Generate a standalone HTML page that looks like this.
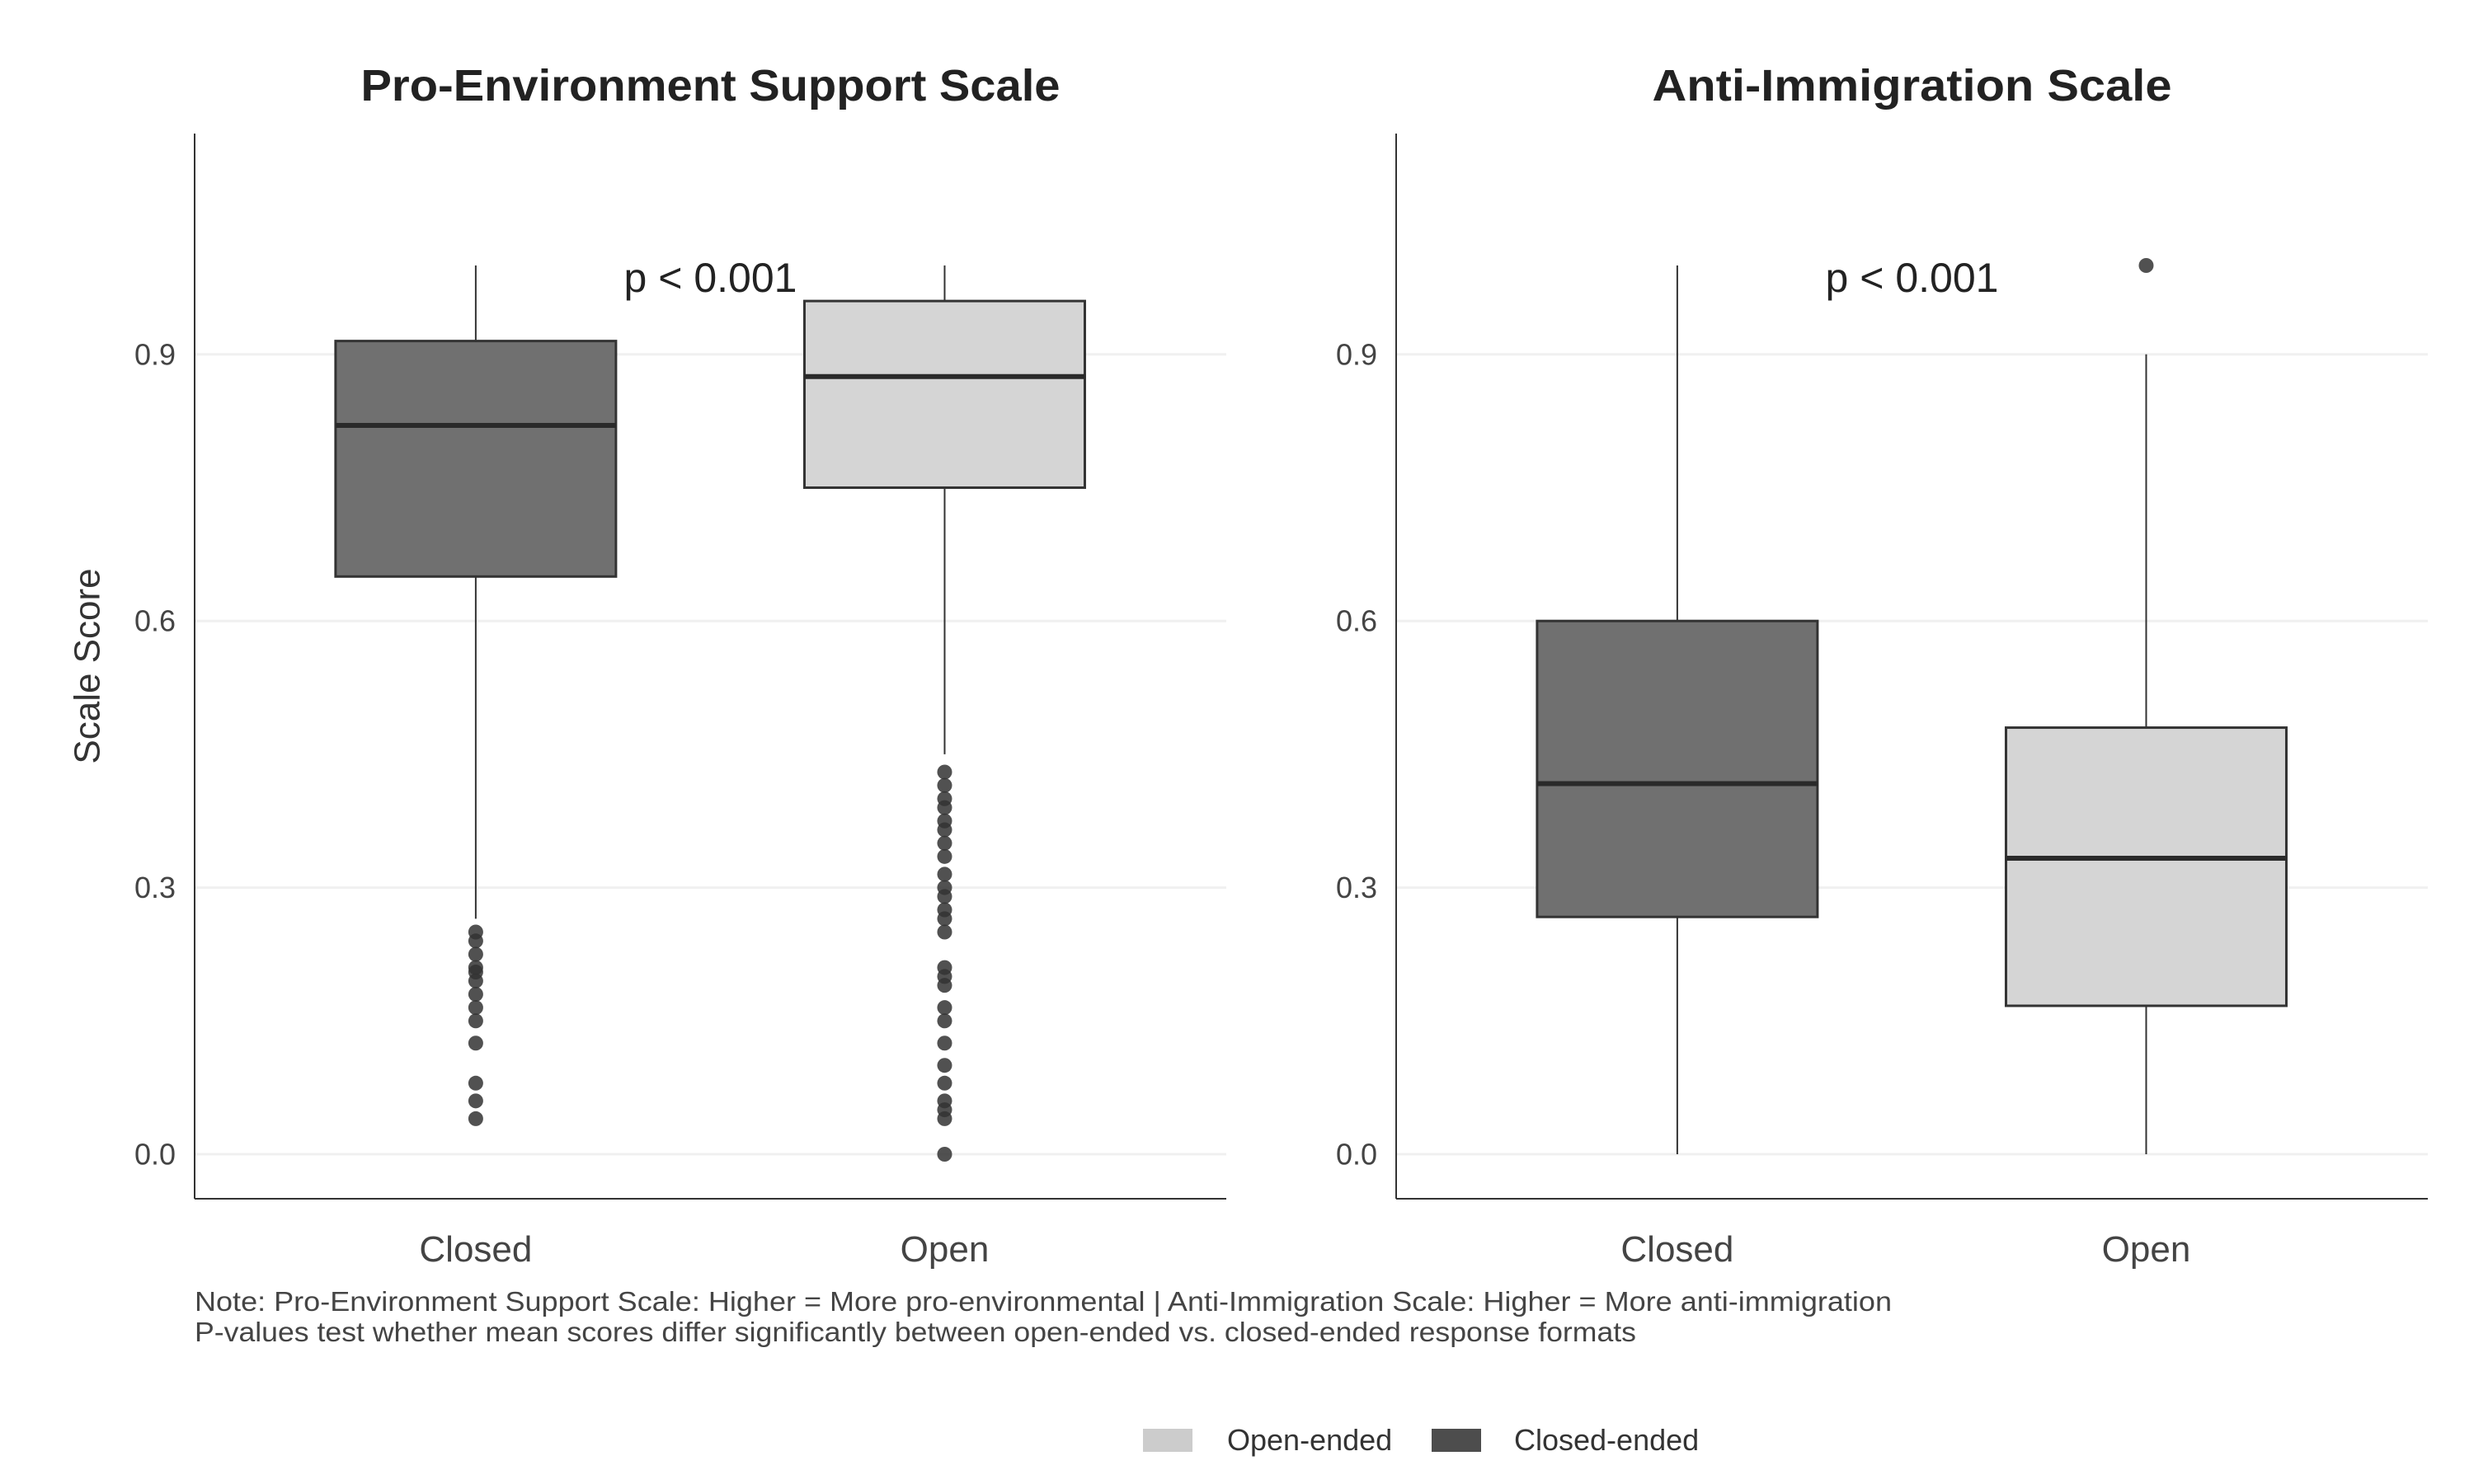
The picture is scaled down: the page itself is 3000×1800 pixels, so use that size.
<!DOCTYPE html>
<html><head><meta charset="utf-8">
<style>
html,body{margin:0;padding:0;background:#fff;}
svg{display:block;font-family:"Liberation Sans","DejaVu Sans",sans-serif;}
</style></head>
<body>
<svg id="chart" width="3000" height="1800" viewBox="0 0 3000 1800" xmlns="http://www.w3.org/2000/svg">
<rect width="3000" height="1800" fill="#fff"/>
<g id="panels"></g>
<text x="106" y="808" transform="rotate(-90 106 808)" text-anchor="middle" dominant-baseline="central" font-size="44" fill="#333">Scale Score</text>
<text x="236" y="1590" font-size="33" fill="#444" textLength="2058" lengthAdjust="spacingAndGlyphs">Note: Pro-Environment Support Scale: Higher = More pro-environmental | Anti-Immigration Scale: Higher = More anti-immigration</text>
<text x="236" y="1627" font-size="33" fill="#444" textLength="1748" lengthAdjust="spacingAndGlyphs">P-values test whether mean scores differ significantly between open-ended vs. closed-ended response formats</text>
<g>
<rect x="1386" y="1733" width="60" height="28" fill="#cccccc"/>
<text x="1488" y="1759" font-size="36" fill="#333">Open-ended</text>
<rect x="1736" y="1733" width="60" height="28" fill="#4d4d4d"/>
<text x="1836" y="1759" font-size="36" fill="#333">Closed-ended</text>
</g>
</svg>
<script>
const panelTitles = ["Pro-Environment Support Scale", "Anti-Immigration Scale"];
const categories = ["Closed", "Open"];
const yTicks = [0.0, 0.3, 0.6, 0.9];
const yTickLabels = ["0.0", "0.3", "0.6", "0.9"];
const pLabels = ["p < 0.001", "p < 0.001"];
// [lowerWhisker, Q1, median, Q3, upperWhisker]
const envClosed = [0.265, 0.65, 0.82, 0.915, 1.0];
const envOpen = [0.45, 0.75, 0.875, 0.96, 1.0];
const immClosed = [0.0, 0.267, 0.417, 0.6, 1.0];
const immOpen = [0.0, 0.167, 0.333, 0.48, 0.9];
const envClosedOutliers = [0.25,0.24,0.225,0.21,0.205,0.195,0.18,0.165,0.15,0.125,0.08,0.06,0.04];
const envOpenOutliers = [0.43,0.415,0.40,0.39,0.375,0.365,0.35,0.335,0.315,0.30,0.29,0.275,0.265,0.25,0.21,0.20,0.19,0.165,0.15,0.125,0.10,0.08,0.06,0.05,0.04,0.0];
const immClosedOutliers = [];
const immOpenOutliers = [1.0];

const NS = "http://www.w3.org/2000/svg";
const root = document.getElementById("panels");
function mk(tag, attrs, parent){const e=document.createElementNS(NS,tag);for(const k in attrs)e.setAttribute(k,attrs[k]);parent.appendChild(e);return e;}
const top0=162, bottom0=1454;
function yScale(v){return 1400 - 1078*v;}
const panelX=[236,1693], panelW=1251;
const titleLens=[848,630];
const boxes=[[envClosed,envOpen],[immClosed,immOpen]];
const outl=[[envClosedOutliers,envOpenOutliers],[immClosedOutliers,immOpenOutliers]];
const fills=["#707070","#d5d5d5"];
const halfW=170;
for(let p=0;p<2;p++){
  const x0=panelX[p];
  const g=mk("g",{},root);
  
  
  function xScale(i){return x0 + panelW*(0.2725 + 0.4545*i);}
  yTicks.forEach((t,i)=>{
    const gl=mk("line",{x1:x0,x2:x0+panelW,y1:yScale(t),y2:yScale(t),stroke:"#f0f0f0","stroke-width":3},g);
    
    
    const tl=mk("text",{x:x0-23,y:yScale(t),"text-anchor":"end","dominant-baseline":"central","font-size":36,fill:"#444"},g);
    tl.textContent=yTickLabels[i];
    
    
  });
  const ax=mk("line",{x1:x0,x2:x0,y1:top0,y2:bottom0,stroke:"#333","stroke-width":2},g);
  
  
  const bx=mk("line",{x1:x0,x2:x0+panelW,y1:bottom0,y2:bottom0,stroke:"#333","stroke-width":2},g);
  
  
  const tt=mk("text",{x:x0+panelW/2,y:122,"text-anchor":"middle","font-size":54,"font-weight":"bold",fill:"#222",textLength:titleLens[p],lengthAdjust:"spacingAndGlyphs"},g);
  tt.textContent=panelTitles[p];
  
  
  const pt=mk("text",{x:x0+panelW/2,y:354,"text-anchor":"middle","font-size":50,fill:"#222"},g);
  pt.textContent=pLabels[p];
  
  
  for(let c=0;c<2;c++){
    const s=boxes[p][c], cx=xScale(c);
    const w1=mk("line",{x1:cx,x2:cx,y1:yScale(s[4]),y2:yScale(s[3]),stroke:"#333","stroke-width":2},g);
    
    
    const w2=mk("line",{x1:cx,x2:cx,y1:yScale(s[1]),y2:yScale(s[0]),stroke:"#333","stroke-width":2},g);
    
    
    const r=mk("rect",{x:cx-halfW,y:yScale(s[3]),width:2*halfW,height:yScale(s[1])-yScale(s[3]),fill:fills[c],stroke:"#333","stroke-width":3},g);
    
    
    const m=mk("line",{x1:cx-halfW,x2:cx+halfW,y1:yScale(s[2]),y2:yScale(s[2]),stroke:"#2a2a2a","stroke-width":6},g);
    
    
    outl[p][c].forEach(v=>{
      const d=mk("circle",{cx:cx,cy:yScale(v),r:9,fill:"#333","fill-opacity":0.85},g);
      
      
    });
    const xl=mk("text",{x:cx,y:1530,"text-anchor":"middle","font-size":44,fill:"#444"},g);
    xl.textContent=categories[c];
    
    
  }
}
</script>
</body></html>
